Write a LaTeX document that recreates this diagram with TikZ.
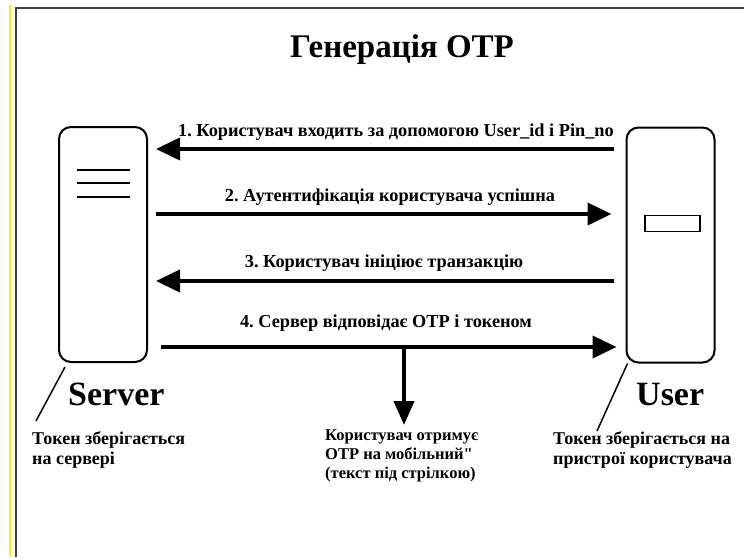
\documentclass[tikz,border=0pt]{standalone}
\usepackage{fontspec}
\setmainfont{Liberation Serif}
\usetikzlibrary{arrows.meta}
\tikzset{
  device/.style={draw, line width=2pt, rounded corners=12pt, minimum width=88pt, minimum height=235pt, inner sep=0pt},
  msg/.style={line width=4pt, -{Triangle[length=24pt,width=22pt]}},
  lbl/.style={font=\frenchspacing\bfseries\fontsize{18.3}{20}\selectfont, inner sep=0pt, anchor=base},
  note/.style={font=\bfseries\fontsize{18}{20}\selectfont, inner sep=0pt, align=left, anchor=north west},
  midnote/.style={font=\bfseries\fontsize{16.5}{19}\selectfont, inner sep=0pt, align=left, anchor=north west},
  big/.style={font=\bfseries\fontsize{34}{38}\selectfont, inner sep=0pt, anchor=base west},
  slash/.style={line width=1.5pt},
}
\newcommand{\straightquote}{{\addfontfeature{Ligatures=TeXOff}\char"22}}
\begin{document}
\begin{tikzpicture}[x=1pt,y=-1pt]
\useasboundingbox (0,0) rectangle (744,557);
\fill[white] (0,0) rectangle (744,557);
% frame
\draw[yellow, line width=2pt] (9.5,5) -- (9.5,557);
\draw[black!75, line width=2pt] (16,557) -- (16,8) -- (744,8);
% title
\node[font=\bfseries\fontsize{33}{38}\selectfont, inner sep=0pt, anchor=base] (title) at (402,57) {Генерація OTP};
% devices
\node[device] (srv) at (103,244.5) {};
\node[device] (usr) at (670.5,245) {};
\draw[line width=1.5pt] ([shift={(19,44)}]srv.north west) -- ++(53,0);
\draw[line width=1.5pt] ([shift={(19,57)}]srv.north west) -- ++(53,0);
\draw[line width=2.5pt] ([shift={(19,71)}]srv.north west) -- ++(53,0);
\node[draw, line width=1.5pt, minimum width=55pt, minimum height=16pt, inner sep=0pt] (scr) at (672.5,223.5) {};
% levels
\coordinate (y1) at (0,149);
\coordinate (y2) at (0,214);
\coordinate (y3) at (0,281);
\coordinate (y4) at (0,347);
% messages
\draw[msg] ([xshift=-12pt]usr.west |- y1) -- ([xshift=8pt]srv.east |- y1);
\draw[msg] ([xshift=8pt]srv.east |- y2) -- ([xshift=-14pt]usr.west |- y2);
\draw[msg] ([xshift=-12pt]usr.west |- y3) -- ([xshift=8pt]srv.east |- y3);
\draw[msg] ([xshift=13pt]srv.east |- y4) -- ([xshift=-9pt]usr.west |- y4);
\node[lbl] (l1) at (396,136) {1. Користувач входить за допомогою User\_id і Pin\_no};
\node[lbl] (l2) at (390,201) {2. Аутентифікація користувача успішна};
\node[lbl] (l3) at (384,267) {3. Користувач ініціює транзакцію};
\node[lbl] (l4) at (386,327) {4. Сервер відповідає OTP і токеном};
% down arrow
\node[midnote] (mid) at (325,429) {Користувач отримує\\OTP на мобільний\straightquote\\(текст під стрілкою)};
\coordinate (d0) at (404,347);
\draw[line width=4pt, -{Triangle[length=24pt,width=20pt]}] (d0) -- ([yshift=4pt]d0 |- mid.north);
% names
\node[big] (sname) at (68,405) {Server};
\node[big] (uname) at (636,405) {User};
% notes
\node[note] (snote) at (32,431) {Токен зберігається\\на сервері};
\node[note] (unote) at (553,431) {Токен зберігається на\\пристрої користувача};
\draw[slash] ([shift={(7,4)}]srv.south west) -- ([shift={(4,-10)}]snote.north west);
\draw[slash] ([shift={(2,0)}]usr.south west) -- ([shift={(44,0)}]unote.north west);
\end{tikzpicture}
\end{document}
